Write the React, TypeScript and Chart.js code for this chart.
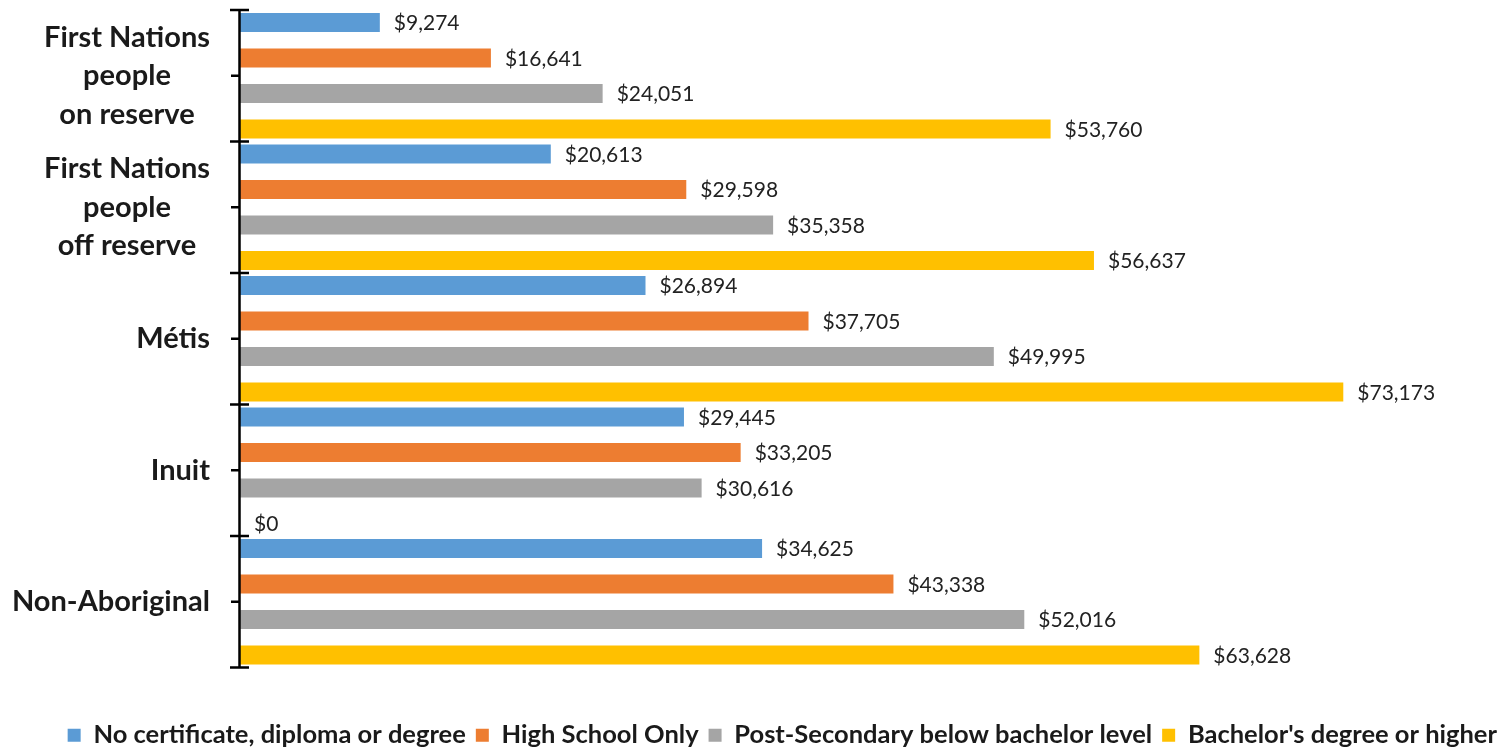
import { useEffect, useRef } from 'react';
import { Chart, registerables } from 'chart.js';

Chart.register(...registerables);

const categories: string[][] = [
  ['First Nations', 'people', 'on reserve'],
  ['First Nations', 'people', 'off reserve'],
  ['Métis'],
  ['Inuit'],
  ['Non-Aboriginal'],
];
const seriesNames = [
  'No certificate, diploma or degree',
  'High School Only',
  'Post-Secondary below bachelor level',
  "Bachelor's degree or higher",
];
const noCertificate = [9274, 20613, 26894, 29445, 34625];
const highSchoolOnly = [16641, 29598, 37705, 33205, 43338];
const postSecondary = [24051, 35358, 49995, 30616, 52016];
const bachelorOrHigher = [53760, 56637, 73173, 0, 63628];
const seriesColors = ['#5B9BD5', '#ED7D31', '#A5A5A5', '#FFC000'];

const fmt = (v: number) => '$' + v.toLocaleString('en-US');

const decorPlugin = {
  id: 'decor',
  afterDatasetsDraw(chart: any) {
    const ctx = chart.ctx as CanvasRenderingContext2D;
    const yScale = chart.scales.y;
    const left = chart.chartArea.left;
    ctx.save();

    // value labels
    ctx.font = '21px Lato';
    ctx.fillStyle = '#222';
    ctx.textAlign = 'left';
    ctx.textBaseline = 'middle';
    chart.data.datasets.forEach((ds: any, i: number) => {
      const meta = chart.getDatasetMeta(i);
      meta.data.forEach((bar: any, j: number) => {
        ctx.fillText(fmt(ds.data[j]), bar.x + 14, bar.y + 1);
      });
    });

    // axis line and ticks
    const n = chart.data.labels.length;
    const top = yScale.getPixelForValue(-0.5);
    const bottom = yScale.getPixelForValue(n - 0.5);
    ctx.strokeStyle = '#000';
    ctx.lineWidth = 2.5;
    ctx.beginPath();
    ctx.moveTo(left - 0.5, top);
    ctx.lineTo(left - 0.5, bottom);
    for (let i = 0; i <= n; i++) {
      const yy = yScale.getPixelForValue(i - 0.5);
      ctx.moveTo(left - 10, yy);
      ctx.lineTo(left + 9, yy);
    }
    for (let i = 0; i < n; i++) {
      const yy = yScale.getPixelForValue(i);
      ctx.moveTo(left - 9, yy);
      ctx.lineTo(left, yy);
    }
    ctx.stroke();

    // category labels
    ctx.font = 'bold 29px Lato';
    ctx.fillStyle = '#1a1a1a';
    ctx.textAlign = 'center';
    chart.data.labels.forEach((lab: string[], i: number) => {
      const lines = Array.isArray(lab) ? lab : [lab];
      const widest = Math.max(...lines.map((l) => ctx.measureText(l).width));
      const cx = left - 30 - widest / 2;
      const cy = yScale.getPixelForValue(i);
      lines.forEach((l, k) => {
        ctx.fillText(l, cx, cy + (k - (lines.length - 1) / 2) * 38.5);
      });
    });
    ctx.restore();
  },
};

export default function App() {
  const ref = useRef<HTMLCanvasElement>(null);
  useEffect(() => {
    if (!ref.current) return;
    const series = [noCertificate, highSchoolOnly, postSecondary, bachelorOrHigher];
    const chart = new Chart(ref.current, {
      type: 'bar',
      data: {
        labels: categories,
        datasets: series.map((d, i) => ({
          label: seriesNames[i],
          data: d,
          backgroundColor: seriesColors[i],
          borderWidth: 0,
          categoryPercentage: 1.081,
          barPercentage: 0.535,
        })),
      },
      options: {
        indexAxis: 'y',
        animation: false,
        responsive: false,
        layout: { padding: { top: 10, left: 0, right: -8, bottom: -10 } },
        scales: {
          y: {
            type: 'category',
            grid: { display: false, drawTicks: false },
            border: { display: false },
            ticks: { display: false },
            afterFit: (s: any) => {
              s.width = 240;
            },
          },
          x: {
            type: 'linear',
            min: 0,
            max: 83500,
            grid: { display: false, drawTicks: false },
            border: { display: false },
            ticks: { display: false },
            afterFit: (s: any) => {
              s.height = 45;
            },
          },
        },
        plugins: {
          tooltip: { enabled: false },
          legend: {
            position: 'bottom',
            align: 'end',
            labels: {
              font: { family: 'Lato', size: 25.5, weight: 'bold' },
              color: '#1a1a1a',
              boxWidth: 13,
              boxHeight: 13,
              padding: 10,
            },
          },
        },
      } as any,
      plugins: [decorPlugin],
    });
    document.fonts?.ready.then(() => chart.update());
    return () => chart.destroy();
  }, []);
  return (
    <div style={{ position: 'fixed', left: 0, top: 0, width: 1499, height: 748, background: '#fff' }}>
      <canvas ref={ref} width={1499} height={748} style={{ display: 'block' }} />
    </div>
  );
}
